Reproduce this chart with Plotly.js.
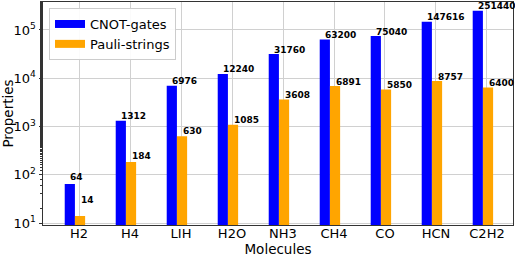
<!DOCTYPE html>
<html>
<head>
<meta charset="utf-8">
<script src="https://cdn.plot.ly/plotly-3.0.1.min.js"></script>
<style>html,body{margin:0;padding:0;background:#fff;}#chart{width:515px;height:258px;}</style>
</head>
<body>
<div id="chart"></div>
<script>
const molecules = ["H2", "H4", "LIH", "H2O", "NH3", "CH4", "CO", "HCN", "C2H2"];
const cnotGates = [64, 1312, 6976, 12240, 31760, 63200, 75040, 147616, 251440];
const pauliStrings = [14, 184, 630, 1085, 3608, 6891, 5850, 8757, 6400];
const yTickVals = [10, 100, 1000, 10000, 100000];
const yTickText = ["10<sup>1</sup>", "10<sup>2</sup>", "10<sup>3</sup>", "10<sup>4</sup>", "10<sup>5</sup>"];
const seriesNames = ["CNOT-gates", "Pauli-strings"];
const seriesColors = ["#0000ff", "#ffa500"];

const idx = molecules.map((_, i) => i);
const barW = 0.2;
const blueOff = -0.28, orangeOff = -0.08;

const traces = [
  {type: 'bar', name: seriesNames[0], x: idx, y: cnotGates, width: barW, offset: blueOff,
   marker: {color: seriesColors[0], line: {width: 0}}, showlegend: false},
  {type: 'bar', name: seriesNames[1], x: idx, y: pauliStrings, width: barW, offset: orangeOff,
   marker: {color: seriesColors[1], line: {width: 0}}, showlegend: false},
  // legend-only entries (wide rectangular patches like the reference)
  {type: 'scatter', mode: 'lines', name: seriesNames[0], x: [null], y: [null],
   line: {color: seriesColors[0], width: 8}, showlegend: true, hoverinfo: 'skip'},
  {type: 'scatter', mode: 'lines', name: seriesNames[1], x: [null], y: [null],
   line: {color: seriesColors[1], width: 8}, showlegend: true, hoverinfo: 'skip'}
];

const annFont = {family: 'DejaVu Sans', size: 9, color: '#000', weight: 'bold'};
const annotations = [];
cnotGates.forEach((v, i) => annotations.push({
  x: i + blueOff + barW / 2, y: Math.log10(v + 10), xref: 'x', yref: 'y', text: '<b>' + v + '</b>',
  showarrow: false, xanchor: 'left', yanchor: 'bottom', font: annFont, xshift: -1.5, yshift: -2.5
}));
pauliStrings.forEach((v, i) => annotations.push({
  x: i + orangeOff + barW / 2, y: Math.log10(v + 10), xref: 'x', yref: 'y', text: '<b>' + v + '</b>',
  showarrow: false, xanchor: 'left', yanchor: 'bottom', font: annFont, xshift: -1.5, yshift: -2.5
}));

const layout = {
  width: 515, height: 258,
  margin: {l: 43, r: 2, t: 2, b: 33},
  paper_bgcolor: '#fff', plot_bgcolor: '#fff',
  font: {family: 'DejaVu Sans', size: 13, color: '#000'},
  barmode: 'overlay',
  showlegend: true,
  legend: {x: 0.0128, y: 0.973, xanchor: 'left', yanchor: 'top', bgcolor: 'rgba(255,255,255,0.9)',
           bordercolor: '#cccccc', borderwidth: 1, font: {size: 13}, itemwidth: 30},
  xaxis: {
    type: 'linear', range: [-0.706, 8.51],
    tickmode: 'array', tickvals: idx, ticktext: molecules,
    showgrid: true, gridcolor: '#d0d0d0', gridwidth: 1,
    showline: true, linecolor: '#333', linewidth: 1, mirror: true,
    ticks: '',
    ticklabelstandoff: -4,
    zeroline: false,
    title: {text: 'Molecules', font: {size: 13.5}, standoff: 0},
    tickfont: {size: 13}
  },
  yaxis: {
    type: 'log', range: [0.959, 5.58],
    tickmode: 'array', tickvals: yTickVals, ticktext: yTickText,
    showgrid: true, gridcolor: '#d0d0d0', gridwidth: 1,
    showline: true, linecolor: '#333', linewidth: 1, mirror: true,
    ticks: 'outside', ticklen: 3.5, tickcolor: '#333',
    minor: {ticks: 'outside', ticklen: 2, tickcolor: '#333', showgrid: false},
    zeroline: false,
    title: {text: 'Properties', font: {size: 13.5}, standoff: 2},
    tickfont: {size: 13}
  },
  annotations: annotations
};

Plotly.newPlot('chart', traces, layout, {displayModeBar: false, staticPlot: true});
</script>
</body>
</html>
